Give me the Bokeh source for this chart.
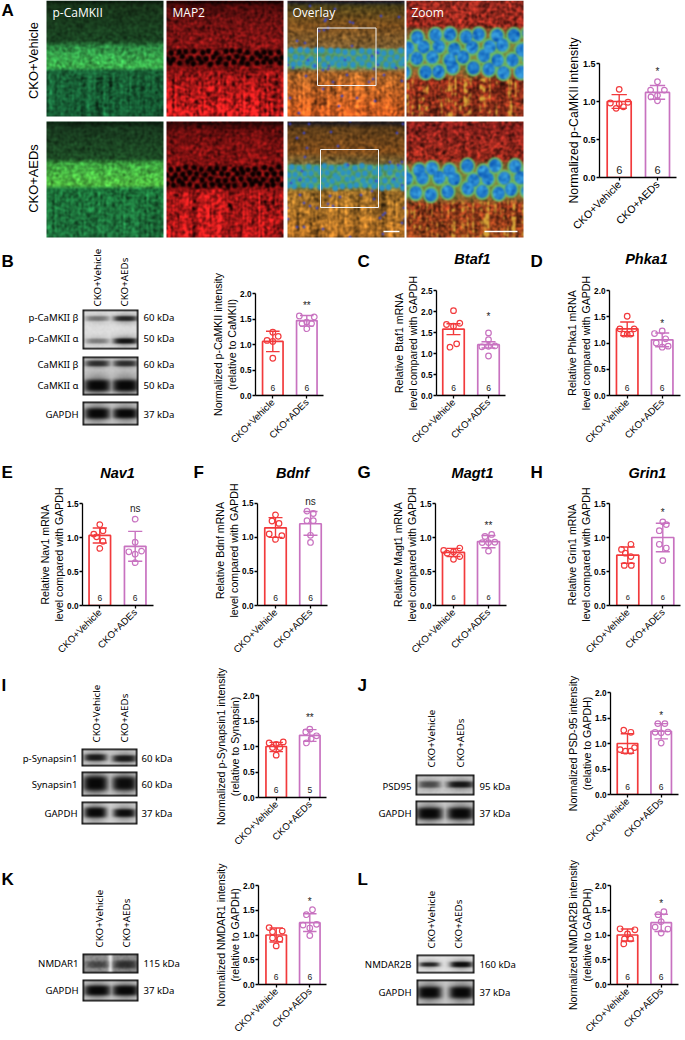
import math
import numpy as np
from bokeh.plotting import figure
from bokeh.layouts import column, row
from bokeh.embed import file_html
from bokeh.resources import INLINE
from bokeh.core.properties import value
from bokeh.models import Range1d, FixedTicker

# ---------------- data ----------------
categories = ["CKO+Vehicle", "CKO+AEDs"]
categories_ades = ["CKO+Vehicle", "CKO+ADEs"]

a_vehicle = [1.16, .98, .99, .97, .91, .93]; a_vehicle_dx = [0, -.23, .23, 0, -.08, .11]
a_aeds = [1.26, 1.15, 1.15, 1.08, 1.06, 1.01]; a_aeds_dx = [0, -.18, .18, 0, -.17, 0]
b_vehicle = [1.24, 1.08, 1.16, 1.06, .73]; b_vehicle_dx = [0, -.17, .16, 0, 0]
b_aeds = [1.56, 1.54, 1.44, 1.41, 1.41, 1.31]; b_aeds_dx = [-.22, .22, 0, -.14, .14, 0]
c_vehicle = [2.02, 1.69, 1.72, 1.65, 1.15, 1.23]; c_vehicle_dx = [0, -.2, .18, 0, -.1, .09]
c_aeds = [1.49, 1.33, 1.16, 1.17, 1.18, .94]; c_aeds_dx = [0, 0, -.19, 0, .19, 0]
d_vehicle = [1.51, 1.27, 1.27, 1.17, 1.17, 1.17]; d_vehicle_dx = [0, -.21, .2, -.1, 0, .1]
d_aeds = [1.23, 1.18, 1.08, 1.0, .94, .92]; d_aeds_dx = [0, -.22, .1, -.17, .17, 0]
e_vehicle = [1.19, 1.05, 1.1, 1.01, .945, .84]; e_vehicle_dx = [0, -.17, .09, -.09, .09, 0]
e_aeds = [1.27, .93, .79, .8, .755, .63]; e_aeds_dx = [0, 0, -.18, .18, 0, 0]
f_vehicle = [1.33, 1.24, 1.205, 1.05, 1.025, .97]; f_vehicle_dx = [0, -.1, .1, -.18, .18, 0]
f_aeds = [1.385, 1.35, 1.245, 1.245, 1.03, .925]; f_aeds_dx = [-.1, .08, -.1, .08, 0, 0]
g_vehicle = [.81, .845, .77, .79, .72, .68]; g_vehicle_dx = [-.28, .18, -.18, 0, .18, 0]
g_aeds = [1.045, 1.015, .925, .925, .93, .8]; g_aeds_dx = [.09, -.1, -.18, 0, .18, 0]
h_vehicle = [.9, .825, .77, .72, .59, .59]; h_vehicle_dx = [.09, -.18, -.07, .09, -.1, .1]
h_aeds = [1.23, 1.19, 1.1, .9, .845, .66]; h_aeds_dx = [0, .1, -.1, -.1, .1, 0]
i_vehicle = [1.07, 1.09, 1.04, .98, .98, .83]; i_vehicle_dx = [-.21, .21, 0, -.11, .11, 0]
i_aeds = [1.34, 1.285, 1.21, 1.15, 1.07]; i_aeds_dx = [0, -.12, .2, .04, -.1]
j_vehicle = [1.26, 1.22, .92, .88, .85, .85]; j_vehicle_dx = [-.11, .1, .21, -.22, -.06, .09]
j_aeds = [1.39, 1.39, 1.22, 1.21, 1.225, 1.01]; j_aeds_dx = [-.1, .11, -.18, 0, .2, 0]
k_vehicle = [1.15, 1.065, 1.08, .94, .92, .78]; k_vehicle_dx = [-.21, -.11, .18, -.11, .11, 0]
k_aeds = [1.51, 1.41, 1.2, 1.215, 1.14, .99]; k_aeds_dx = [.08, -.1, -.2, .2, 0, 0]
l_vehicle = [1.125, 1.105, 1.02, .92, .92, .82]; l_vehicle_dx = [-.22, .22, 0, .09, -.09, -.11]
l_aeds = [1.47, 1.41, 1.27, 1.16, 1.12, 1.04]; l_aeds_dx = [.08, -.09, 0, -.18, .2, 0]

# name: bar heights, error top, error bottom, significance text, its height, counts
stats = {
 "a": ([1.0, 1.12], [1.09, 1.21], [.91, 1.03], "*", 1.39, ["6", "6"]),
 "b": ([1.06, 1.47], [1.26, 1.57], [.86, 1.36], "**", 1.76, ["6", "6"]),
 "c": ([1.58, 1.21], [1.71, 1.28], [1.45, 1.13], "*", 1.87, ["6", "6"]),
 "d": ([1.27, 1.06], [1.40, 1.19], [1.14, .93], "*", 1.38, ["6", "6"]),
 "e": ([1.03, .87], [1.14, 1.09], [.92, .65], "ns", 1.43, ["6", "6"]),
 "f": ([1.14, 1.20], [1.29, 1.38], [1.0, 1.03], "ns", 1.52, ["6", "6"]),
 "g": ([.78, .94], [.84, 1.03], [.72, .85], "**", 1.17, ["6", "6"]),
 "h": ([.74, 1.0], [.86, 1.21], [.62, .79], "*", 1.37, ["6", "6"]),
 "i": ([1.0, 1.22], [1.08, 1.33], [.9, 1.1], "**", 1.56, ["6", "5"]),
 "j": ([1.0, 1.24], [1.19, 1.39], [.81, 1.09], "*", 1.54, ["6", "6"]),
 "k": ([1.0, 1.25], [1.14, 1.43], [.86, 1.07], "*", 1.68, ["6", "6"]),
 "l": ([1.0, 1.25], [1.12, 1.42], [.88, 1.07], "*", 1.64, ["6", "6"]),
}
points = {
 "a": (a_vehicle, a_vehicle_dx, a_aeds, a_aeds_dx), "b": (b_vehicle, b_vehicle_dx, b_aeds, b_aeds_dx),
 "c": (c_vehicle, c_vehicle_dx, c_aeds, c_aeds_dx), "d": (d_vehicle, d_vehicle_dx, d_aeds, d_aeds_dx),
 "e": (e_vehicle, e_vehicle_dx, e_aeds, e_aeds_dx), "f": (f_vehicle, f_vehicle_dx, f_aeds, f_aeds_dx),
 "g": (g_vehicle, g_vehicle_dx, g_aeds, g_aeds_dx), "h": (h_vehicle, h_vehicle_dx, h_aeds, h_aeds_dx),
 "i": (i_vehicle, i_vehicle_dx, i_aeds, i_aeds_dx), "j": (j_vehicle, j_vehicle_dx, j_aeds, j_aeds_dx),
 "k": (k_vehicle, k_vehicle_dx, k_aeds, k_aeds_dx), "l": (l_vehicle, l_vehicle_dx, l_aeds, l_aeds_dx),
}
titles = {
 "a": "Normalized p-CaMKII intensity",
 "b": "Normalized p-CaMKII intensity\n(relative to CaMKII)",
 "c": "Relative Btaf1 mRNA\nlevel compared with GAPDH",
 "d": "Relative Phka1 mRNA\nlevel compared with GAPDH",
 "e": "Relative Nav1 mRNA\nlevel compared with GAPDH",
 "f": "Relative Bdnf mRNA\nlevel compared with GAPDH",
 "g": "Relative Magt1 mRNA\nlevel compared with GAPDH",
 "h": "Relative Grin1 mRNA\nlevel compared with GAPDH",
 "i": "Normalized p-Synapsin1 intensity\n(relative to Synapsin)",
 "j": "Normalized PSD-95 intensity\n(relative to GAPDH)",
 "k": "Normalized NMDAR1 intensity\n(relative to GAPDH)",
 "l": "Normalized NMDAR2B intensity\n(relative to GAPDH)",
}
y_ticks = {"a": [0, .5, 1, 1.5], "b": [0, .5, 1, 1.5, 2], "c": [0, .5, 1, 1.5, 2, 2.5], "d": [0, .5, 1, 1.5, 2],
           "e": [0, .5, 1, 1.5], "f": [0, .5, 1, 1.5], "g": [0, .5, 1, 1.5], "h": [0, .5, 1, 1.5],
           "i": [0, .5, 1, 1.5, 2], "j": [0, .5, 1, 1.5, 2], "k": [0, .5, 1, 1.5, 2], "l": [0, .5, 1, 1.5, 2]}
x_labels = {"a": categories, "b": categories_ades, "c": categories_ades, "d": categories_ades, "e": categories_ades,
            "f": categories_ades, "g": categories_ades, "h": categories_ades, "i": categories, "j": categories,
            "k": categories, "l": categories}

# ---------------- layout (page pixels) ----------------
# left, right, top, bottom of plot area; bar centres; bar width; font sizes title/tick/x/count
frames = {
 "a": (599, 676, 63, 177, 618.7, 657, 24, 12.3, 9, 10.6, 11),
 "b": (255, 323, 293, 395, 272.3, 306.3, 20.5, 10.6, 8.2, 9.6, 8.5),
 "c": (436, 505, 290, 395, 453, 488, 21.5, 10.6, 8.2, 9.6, 8.5),
 "d": (609, 680, 290, 395, 626.7, 661.7, 21.5, 10.6, 8.2, 9.6, 8.5),
 "e": (82, 153, 503, 608, 99.3, 134.7, 21.5, 10.6, 8.2, 9.6, 8.5),
 "f": (257, 327, 503, 608, 275, 310, 21.5, 10.6, 8.2, 9.6, 8.5),
 "g": (435, 506, 503, 608, 453, 488, 22, 10.6, 8.2, 9.6, 7.5),
 "h": (609, 680, 503, 608, 627.3, 662.3, 22, 10.6, 8.2, 9.6, 7.5),
 "i": (258, 326, 695, 797, 275.7, 309.3, 20.5, 10.6, 8.2, 9.6, 8.5),
 "j": (610, 678, 692, 794, 627, 660.7, 20.5, 10.6, 8.2, 9.6, 8.5),
 "k": (258, 326, 885, 987, 275.7, 309.3, 20.5, 10.6, 8.2, 9.6, 8.5),
 "l": (610, 678, 885, 987, 627, 660.7, 20.5, 10.6, 8.2, 9.6, 8.5),
}
headroom = {"f": 8}
RED = "#f23a3c"
PURPLE = "#c872c0"
ARIAL = "Liberation Sans"
LABEL = "Noto Sans"
H_PAGE = 1040
Y = lambda py: H_PAGE - py

letters = [("A", 1, 10), ("B", 1, 261), ("C", 357, 261), ("D", 530, 261), ("E", 1, 472), ("F", 193, 472),
           ("G", 357, 472), ("H", 530, 472), ("I", 1, 685), ("J", 357, 685), ("K", 1, 879), ("L", 357, 879)]
genes = [("Btaf1", 472, 258), ("Phka1", 646, 258), ("Nav1", 117, 472), ("Bdnf", 292, 472),
         ("Magt1", 472, 472), ("Grin1", 647, 472)]
name_labels = [("p-CaMKII β", 78, 317), ("p-CaMKII α", 78, 338), ("CaMKII β", 78, 364), ("CaMKII α", 78, 385), ("GAPDH", 78, 414),
               ("p-Synapsin1", 77, 758), ("Synapsin1", 77, 784), ("GAPDH", 77, 813),
               ("PSD95", 411, 786), ("GAPDH", 411, 813),
               ("NMDAR1", 78, 963), ("GAPDH", 78, 990),
               ("NMDAR2B", 411, 964), ("GAPDH", 411, 992)]
mass_labels = [("60 kDa", 143, 317), ("50 kDa", 143, 338), ("60 kDa", 143, 364), ("50 kDa", 143, 385), ("37 kDa", 143, 414),
               ("60 kDa", 141, 758), ("60 kDa", 141, 784), ("37 kDa", 141, 813),
               ("95 kDa", 479, 786), ("37 kDa", 479, 813),
               ("115 kDa", 143, 963), ("37 kDa", 143, 990),
               ("160 kDa", 479, 964), ("37 kDa", 479, 992)]
lane_headers = [(97, 124, 306), (96, 124, 742), (431, 460, 767), (99, 126, 947), (431, 458, 948)]


# ---------------- raster helpers ----------------
def hash2(h, w, k):
    yy, xx = np.mgrid[0:h, 0:w]
    v = np.sin(xx * 12.9898 + yy * 78.233 + k * 3.17) * 43758.5453
    return v - np.floor(v)


def blur(a, n=1):
    for _ in range(n):
        a = (a + np.roll(a, 1, 0) + np.roll(a, -1, 0) + np.roll(a, 1, 1) + np.roll(a, -1, 1)) / 5
    return a


def vstops(h, stops):
    ys = np.arange(h)
    px = [s[0] for s in stops]
    return np.stack([np.interp(ys, px, [s[1][c] for s in stops]) for c in range(3)], axis=1)[:, None, :]


def cells(h, w, y0, y1, r, k, gap=2.15):
    yy, xx = np.mgrid[0:h, 0:w]
    body = np.zeros((h, w))
    rim = np.zeros((h, w))
    rw = 0
    y = y0 + r
    while y < y1:
        x = -r + (rw % 2) * r
        while x < w + r:
            a = math.sin(x * 7.1 + y * 3.3 + k) * 43758.5
            a = a - math.floor(a)
            b = math.sin(x * 2.7 + y * 9.1 + k) * 24634.6
            b = b - math.floor(b)
            cx, cy = x + (a - .5) * r * .9, y + (b - .5) * r * 1.0
            d = np.hypot(xx - cx, (yy - cy) * .92)
            rim = np.maximum(rim, np.clip(1.6 - np.abs(d - r) / 1.1, 0, 1))
            body = np.maximum(body, np.clip((r - d) / 1.2, 0, 1))
            x += r * gap
        y += r * 1.75
        rw += 1
    return body, np.clip(rim - body * .7, 0, 1)


def streaks(h, w, k):
    col = blur(hash2(1, w, k) * np.ones((h, w)), 1)
    slow = blur(hash2(h, w, k + 5), 5)
    breakup = .55 + (blur(hash2(h, w, k + 7), 3) - .5) * 5
    return np.clip(((col - .5) * 3 + (slow - .5) * 4) * np.clip(breakup, 0, 1.4), -1, 1)


MICRO = {
 ("g", 0): [(0, (8, 22, 10)), (4, (24, 52, 26)), (40, (26, 68, 34)), (47, (48, 150, 72)), (66, (62, 185, 80)), (70, (26, 100, 56)), (115, (22, 92, 52))],
 ("g", 1): [(0, (10, 28, 14)), (6, (24, 56, 30)), (37, (30, 78, 38)), (42, (64, 172, 66)), (63, (82, 192, 66)), (67, (30, 118, 60)), (115, (30, 112, 60))],
 ("r", 0): [(0, (10, 0, 0)), (4, (70, 10, 10)), (15, (100, 16, 16)), (40, (130, 20, 20)), (68, (120, 16, 16)), (72, (150, 22, 22)), (115, (215, 30, 30))],
 ("r", 1): [(0, (30, 5, 5)), (8, (100, 14, 14)), (30, (130, 18, 18)), (65, (125, 16, 16)), (70, (155, 22, 22)), (115, (185, 26, 26))],
 ("o", 0): [(0, (15, 20, 40)), (5, (75, 65, 25)), (25, (125, 80, 30)), (47, (125, 95, 50)), (68, (125, 115, 70)), (72, (160, 95, 38)), (115, (210, 92, 32))],
 ("o", 1): [(0, (20, 20, 30)), (6, (90, 60, 25)), (30, (130, 78, 28)), (42, (115, 105, 58)), (65, (115, 130, 66)), (70, (150, 105, 38)), (115, (172, 108, 36))],
 ("z", 0): [(0, (150, 42, 32)), (30, (155, 42, 30)), (72, (150, 46, 28)), (115, (145, 50, 28))],
 ("z", 1): [(0, (135, 32, 28)), (40, (150, 42, 28)), (80, (150, 55, 28)), (115, (155, 68, 28))],
}


def micro(kind, rw):
    h, w = 116, 117
    k = ord(kind) + rw * 11
    img = np.repeat(vstops(h, MICRO[(kind, rw)]), w, axis=1)
    speck = blur(hash2(h, w, k), 1) - .5
    st = streaks(h, w, k + 1)
    ly0, ly1 = (47, 69) if rw == 0 else (42, 66)
    ys = np.arange(h)[:, None]
    band = ((ys > ly0) & (ys < ly1)).astype(float)
    below = np.clip((np.arange(h) - ly1) / 6, 0, 1)[:, None]
    if kind == "g":
        body, rim = cells(h, w, ly0, ly1, 4.5, k)
        img = img * (1 + speck[..., None] * 1.4 + (st * below * .42)[..., None])
        img = img * (1 - (.22 * (1 - body) * band)[..., None]) + (rim * band * 30)[..., None] * np.array([.5, 1, .5])
    elif kind == "r":
        body, rim = cells(h, w, ly0 + 1, ly1 - 2, 3.2, k, gap=2.4)
        img = img * (1 + speck[..., None] * 2.2 + (st * below * .7)[..., None])
        img = img * (1 - .92 * body[..., None])
    elif kind == "o":
        body, rim = cells(h, w, ly0, ly1, 3.6, k)
        img = img * (1 + speck[..., None] * 1.5 + (st * below * .5)[..., None])
        img = img * (1 - body[..., None]) + body[..., None] * np.array([45, 145, 195])
        img = img * (1 - .7 * (rim * band)[..., None]) + (.7 * rim * band)[..., None] * np.array([70, 185, 125])
        dots = (hash2(h, w, k + 9) > .996).astype(float)
        dots = np.clip(blur(dots, 1) * 5, 0, 1)
        img = img * (1 - dots[..., None]) + dots[..., None] * np.array([60, 70, 205])
    else:
        ly0, ly1 = (28, 76) if rw == 0 else (40, 80)
        body, rim = cells(h, w, ly0, ly1, 6.6, k, gap=2.45)
        band_z = np.clip(1.2 - np.abs(ys - (ly0 + ly1) / 2) / ((ly1 - ly0) / 2 - 2), 0, 1) ** .5
        below = np.clip((np.arange(h) - ly1 + 3) / 5, 0, 1)[:, None]
        img = img * (1 + speck[..., None] * 2.4)
        img = img * (1 - (.75 * band_z)[..., None]) + (.75 * band_z)[..., None] * np.array([115, 165, 70])
        yel = np.clip((st - .2) * below * 1.8, 0, 1)[..., None]
        img = img * (1 - yel) + yel * np.array([215, 165, 55])
        dark = np.clip(-st * below * .5, 0, 1)[..., None]
        img = img * (1 - dark)
        img = img * (1 - rim[..., None]) + rim[..., None] * np.array([105, 190, 105])
        tone = (blur(hash2(h, w, k + 3), 3) - .5)[..., None] * np.array([60, 90, 50]) * 2.5
        img = img * (1 - body[..., None]) + body[..., None] * (np.array([38, 130, 205]) + tone)
    return np.clip(blur(img, 1), 0, 255)


def to_rgba(rgb):
    rgb = np.clip(rgb, 0, 255).astype(np.uint8)
    h, w = rgb.shape[:2]
    out = np.zeros((h, w), dtype=np.uint32)
    view = out.view(dtype=np.uint8).reshape((h, w, 4))
    view[..., :3] = rgb
    view[..., 3] = 255
    return out[::-1]


# x0,y0,x1,y1, background gray, grain, [ (lane x, band y, half w, half h, darkness) ]
blots = [
 (82, 309, 138, 349, 222, 4, [(97, 318, 12, 2.6, .38), (125, 318, 12, 2.6, .78), (97, 340.5, 12, 2.6, .35), (125, 340.5, 12, 2.8, .9)]),
 (82, 356, 138, 395, 205, 3, [(97, 363, 12, 3, .72), (125, 363, 12, 3, .72), (97, 385, 13, 6, 1), (125, 385, 13, 6, 1)]),
 (82, 401, 138, 425, 205, 2, [(97, 413, 12.5, 5.5, 1), (125, 413, 12.5, 5, 1)]),
 (81, 748, 137, 766, 205, 3, [(95, 757, 11, 3.4, .85), (124, 758, 12, 3.4, .85)]),
 (81, 771, 137, 796, 205, 3, [(95, 783, 12, 7.5, 1), (124, 783, 12, 7, .96)]),
 (81, 801, 137, 824, 215, 2, [(95, 812, 11, 5.2, 1), (124, 812.5, 11, 4.2, .95)]),
 (415, 774, 474, 795, 205, 4, [(429, 784, 11, 3.4, .55), (460, 784, 13, 3.2, .88)]),
 (415, 800, 474, 825, 210, 2, [(429, 813, 13, 6, 1), (460, 813, 13, 6, 1)]),
 (82, 953, 138, 973, 150, 12, [(97, 964, 11, 3.4, .45), (125, 964, 12, 4, .62)]),
 (82, 979, 138, 1001, 210, 2, [(97, 990, 13, 5.2, 1), (125, 990, 13, 5.2, 1)]),
 (416, 954, 474, 973, 228, 2, [(429, 964, 10, 2.2, .8), (461, 964, 11, 2.8, .96)]),
 (416, 979, 474, 1005, 205, 2, [(429, 992, 12, 6, 1), (461, 992, 12, 6, 1)]),
]


def blot_image(b):
    x0, y0, x1, y1, bgv, grain, bands = b
    h, w = y1 - y0, x1 - x0
    yy, xx = np.mgrid[0:h, 0:w]
    xx = xx + x0 + .5
    yy = yy + y0 + .5
    g = np.full((h, w), float(bgv))
    g = g + (blur(hash2(h, w, x0 + y0), 1) - .5) * grain * 4
    if bgv < 200:
        gap = np.exp(-((xx - (x0 + x1) / 2) / 2.2) ** 2)
        g = g * (1 - gap) + 240 * gap
    halo = np.zeros((h, w))
    core = np.zeros((h, w))
    for lx, ly, hw, hh, dk in bands:
        e = ((xx - lx) / hw) ** 2
        core = np.maximum(core, dk * np.exp(-e ** 2) * np.exp(-(((yy - ly) / hh) ** 2) ** 2))
        halo = np.maximum(halo, dk * .45 * np.exp(-e) * np.exp(-((yy - ly) / (hh * 2)) ** 2))
    g = g * (1 - halo)
    g = g * (1 - core) + 8 * core
    g[1, :] = g[1, :] * .45; g[-2, :] = g[-2, :] * .45; g[:, 1] = g[:, 1] * .45; g[:, -2] = g[:, -2] * .45
    g[0, :] = 20; g[-1, :] = 20; g[:, 0] = 20; g[:, -1] = 20
    return np.repeat(g[..., None], 3, axis=2)


# ---------------- backdrop cells: pictures and their labels ----------------
def backdrop(x0, x1, y0, y1):
    bg = figure(width=x1 - x0, height=y1 - y0, x_range=Range1d(x0, x1), y_range=Range1d(Y(y1), Y(y0)),
                toolbar_location=None, output_backend="svg", min_border=0, outline_line_color=None,
                x_axis_location=None, y_axis_location=None)
    bg.grid.visible = False

    def inside(x, y):
        return x0 <= x < x1 and y0 <= y < y1

    def T(x, y, s, size, color="black", font=ARIAL, style="normal", align="left", angle=0):
        bg.text(x=[x], y=[Y(y)], text=[s], text_font=value(font), text_font_size=f"{size}px", text_font_style=style,
                text_color=color, text_align=align, text_baseline="middle", angle=angle)

    def put_image(rgb, ix, iy):
        h, w = rgb.shape[:2]
        bg.image_rgba(image=[to_rgba(rgb)], x=ix, y=Y(iy + h), dw=w, dh=h)

    if y0 < 100:
        for rw, ty in enumerate((0, 121)):
            for kind, lx in zip("groz", (46, 166, 287, 406)):
                put_image(micro(kind, rw), lx, ty)
        for bx0, by0, bx1, by1 in ((317, 27.5, 375.5, 85), (320, 149, 378, 207)):
            bg.quad(left=[bx0], right=[bx1], top=[Y(by0)], bottom=[Y(by1)], fill_alpha=0, line_color="#f4f4f4", line_width=1)
        for sx0, sx1 in ((383, 399), (484, 517)):
            bg.segment(x0=[sx0], x1=[sx1], y0=[Y(231)], y1=[Y(231)], line_color="white", line_width=1.4)
        for x, s in ((52, "p-CaMKII"), (172, "MAP2"), (292, "Overlay"), (411, "Zoom")):
            T(x, 12, s, 12, color="white", font="Open Sans")
        T(33, 60, "CKO+Vehicle", 12.9, align="center", angle=math.pi / 2)
        T(33, 178, "CKO+AEDs", 12.9, align="center", angle=math.pi / 2)
    for b in blots:
        if inside(b[0], b[1]):
            put_image(blot_image(b), b[0], b[1])
    for s, x, y in letters:
        if inside(x, y):
            T(x, y, s, 17, style="bold")
    for s, x, y in genes:
        if inside(x, y):
            T(x, y, s, 14.5, style="bold italic", align="center")
    for s, x, y in name_labels:
        if inside(x, y):
            T(x, y, s, 9.6, font=LABEL, align="right")
    for s, x, y in mass_labels:
        if inside(x, y):
            T(x, y, s, 9.6, font=LABEL)
    for x1_, x2_, yb in lane_headers:
        if inside(x1_, yb):
            T(x1_, yb, "CKO+Vehicle", 9.8, font=LABEL, angle=math.pi / 2)
            T(x2_, yb, "CKO+AEDs", 9.8, font=LABEL, angle=math.pi / 2)
    return bg


# ---------------- bar panels ----------------
def panel(name, x0, x1, y0, y1):
    left, right, top, bottom, c1, c2, bw, fs_title, fs_tick, fs_x, fs_n = frames[name]
    means, hi, lo, sig, sig_y, counts = stats[name]
    v1, dx1, v2, dx2 = points[name]
    ticks = y_ticks[name]
    d = c2 - c1
    x_start = 1 - (c1 - left) / d
    x_end = 1 + (right - c1) / d
    extra = headroom.get(name, 0)
    y_end = ticks[-1] * (bottom - top + extra) / (bottom - top)
    p = figure(width=x1 - x0, height=y1 - y0, x_range=Range1d(x_start, x_end), y_range=Range1d(0, y_end),
               toolbar_location=None, output_backend="svg", min_border_left=left - x0, min_border_top=top - extra - y0,
               min_border_right=x1 - right, min_border_bottom=y1 - bottom, outline_line_color=None)
    p.grid.visible = False
    xa, ya = p.xaxis[0], p.yaxis[0]
    xa.ticker = FixedTicker(ticks=[1, 2])
    xa.major_label_overrides = {1: x_labels[name][0], 2: x_labels[name][1]}
    xa.major_label_orientation = math.pi / 4
    xa.major_label_text_font = ARIAL
    xa.major_label_text_font_size = f"{fs_x}px"
    xa.major_label_text_color = "black"
    xa.major_label_standoff = 2
    ya.ticker = FixedTicker(ticks=ticks)
    ya.bounds = (0, ticks[-1])
    ya.major_label_overrides = {t: f"{t:.1f}" for t in ticks}
    ya.major_label_text_font = ARIAL
    ya.major_label_text_font_size = f"{fs_tick}px"
    ya.major_label_text_font_style = "bold"
    ya.major_label_text_color = "black"
    ya.major_label_standoff = 1
    ya.axis_label = titles[name]
    ya.axis_label_text_font = ARIAL
    ya.axis_label_text_font_size = f"{fs_title}px"
    ya.axis_label_text_font_style = "normal"
    ya.axis_label_text_color = "black"
    ya.axis_label_standoff = -1
    for ax in (xa, ya):
        ax.minor_tick_line_color = None
        ax.major_tick_in = 0
        ax.major_tick_out = 3
        ax.axis_line_width = 1.3
        ax.major_tick_line_width = 1.3
        ax.axis_line_color = "black"
        ax.major_tick_line_color = "black"

    cap = .2
    for i, (color, vals, dxs) in enumerate(((RED, v1, dx1), (PURPLE, v2, dx2))):
        xc = i + 1
        p.vbar(x=[xc], top=[means[i]], bottom=[0], width=bw / d, fill_color="white", line_color=color, line_width=1.7)
        p.segment(x0=[xc], x1=[xc], y0=[lo[i]], y1=[hi[i]], line_color=color, line_width=1.4)
        p.segment(x0=[xc - cap, xc - cap], x1=[xc + cap, xc + cap], y0=[hi[i], lo[i]], y1=[hi[i], lo[i]],
                  line_color=color, line_width=1.4)
        p.scatter(x=[xc + a for a in dxs], y=vals, marker="circle", size=5.6, fill_alpha=0, line_color=color, line_width=1.2)
        p.text(x=[xc], y=[0], text=[counts[i]], text_font=value(ARIAL), text_font_size=f"{fs_n}px", text_align="center",
               text_baseline="middle", y_offset=-8, text_color="#222222")
    p.text(x=[2], y=[sig_y], text=[sig], text_font=value(ARIAL), text_font_size="10px", text_align="center",
           text_baseline="middle", text_color="#222222")
    return p


def cell(kind, x0, x1, y0, y1):
    fig = backdrop(x0, x1, y0, y1) if kind == "back" else panel(kind, x0, x1, y0, y1)
    return column(fig, width=x1 - x0, height=y1 - y0)


def cells_row(y0, y1, cell_list):
    return row(*[cell(kind, x0, x1, y0, y1) for kind, x0, x1 in cell_list])


root = column(
    cells_row(0, 243, [("back", 0, 555), ("a", 555, 685)]),
    row(cell("back", 0, 200, 243, 462),
        column(cell("back", 200, 685, 243, 270),
               cells_row(270, 462, [("b", 200, 345), ("c", 345, 520), ("d", 520, 685)]))),
    column(cell("back", 0, 685, 462, 484),
           cells_row(484, 661, [("e", 0, 190), ("f", 190, 345), ("g", 345, 520), ("h", 520, 685)])),
    cells_row(661, 855, [("back", 0, 200), ("i", 200, 345), ("back", 345, 555), ("j", 555, 685)]),
    cells_row(855, 1040, [("back", 0, 200), ("k", 200, 345), ("back", 345, 555), ("l", 555, 685)]),
)
open("out.html", "w").write(file_html(root, INLINE))
